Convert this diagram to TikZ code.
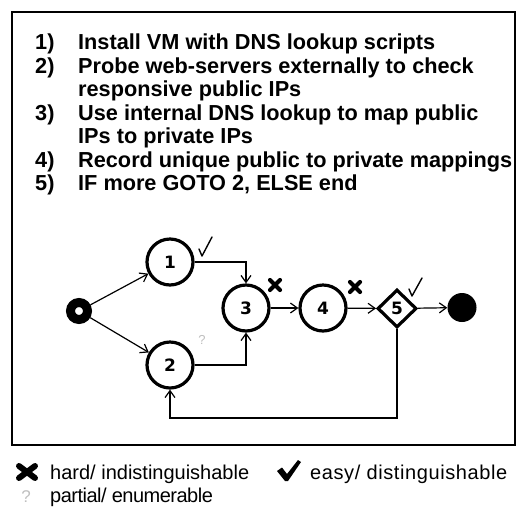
\documentclass[tikz,border=0pt]{standalone}
\usepackage{fontspec}
\setmainfont{Liberation Sans}
\newfontfamily\numfont{DejaVu Sans}
\newfontfamily\widefont[LetterSpace=3]{Liberation Sans}
\newfontfamily\tightfont[LetterSpace=-2.5]{Liberation Sans}
\usetikzlibrary{arrows.meta,shapes.geometric}
\begin{document}
\begin{tikzpicture}[x=1pt,y=-1pt,
  itemnum/.style={anchor=base west,inner sep=0pt,font=\fontsize{21.7}{21.7}\selectfont\bfseries},
  itemtext/.style={anchor=base west,inner sep=0pt,font=\fontsize{21.7}{21.7}\selectfont\bfseries},
  legendtext/.style={anchor=base west,inner sep=0pt,font=\fontsize{20}{20}\selectfont},
  stepnode/.style={circle,draw,line width=3.2pt,minimum size=46pt,inner sep=0pt,
    font=\numfont\fontsize{17}{17}\selectfont\bfseries},
  decide/.style={diamond,draw,line width=3.2pt,minimum width=39pt,minimum height=38pt,
    inner sep=0pt,font=\numfont\fontsize{17}{17}\selectfont\bfseries},
  startnode/.style={circle,draw,line width=9pt,minimum size=17pt,inner sep=0pt},
  endnode/.style={circle,fill,minimum size=29pt,inner sep=0pt},
  arr/.style={line width=1.2pt,-{Straight Barb[length=7pt,width=10pt,line width=1.2pt]}},
  easymark/.style={line width=1.4pt,line cap=round,line join=round},
  hardmark/.style={line width=4.2pt,line cap=round},
  partialmark/.style={text=black!25,inner sep=0pt,font=\fontsize{13}{13}\selectfont}
]
\useasboundingbox (0,0) rectangle (518,517);

% outer frame
\draw[line width=2pt] (12,12) rectangle (515,445);

% numbered steps
\node[itemnum] (k1) at (35,49.5) {1)};
\node[itemtext] (t1) at (78,49.5) {Install VM with DNS lookup scripts};
\node[itemnum] (k2) at (35,73) {2)};
\node[itemtext] (t2) at (78,73) {Probe web-servers externally to check};
\node[itemtext] (t2b) at (78,96.5) {responsive public IPs};
\node[itemnum] (k3) at (35,120) {3)};
\node[itemtext] (t3) at (78,120) {Use internal DNS lookup to map public};
\node[itemtext] (t3b) at (78,143.5) {IPs to private IPs};
\node[itemnum] (k4) at (35,167) {4)};
\node[itemtext] (t4) at (78,167) {Record unique public to private mappings};
\node[itemnum] (k5) at (35,190.5) {5)};
\node[itemtext] (t5) at (78,190.5) {IF more GOTO 2, ELSE end};

% flow graph
\node[startnode] (s) at (79,311) {};
\node[stepnode] (n1) at (170,262) {1};
\node[stepnode] (n2) at (170,365) {2};
\node[stepnode] (n3) at (246,308) {3};
\node[stepnode] (n4) at (323,308) {4};
\node[decide] (n5) at (397,308.5) {5};
\node[endnode] (e) at (462,307.5) {};
\coordinate (back) at (300,418);

\draw[arr] (s) -- (n1);
\draw[arr] (s) -- (n2);
\draw[arr] (n1.east) -| (n3.north);
\draw[arr] (n2.east) -| (n3.south);
\draw[arr] (n3) -- (n4);
\draw[arr] (n4) -- (n5);
\draw[arr] (n5) -- (e);
\draw[arr] (n5.south) |- (back) -| (n2.south);

% difficulty marks on the steps
\draw[easymark] (199,249) -- (202,256) -- (212,237);
\draw[easymark] (409,289) -- (412,296) -- (422,278);
\draw[hardmark] (270,280) -- (280,290) (270,290) -- (280,280);
\draw[hardmark] (350,282) -- (360,292) (350,292) -- (360,282);
\node[partialmark] (q) at (202,340) {?};

% legend
\draw[line width=6pt,line cap=round] (19,466) -- (35,478) (19,478) -- (35,466);
\node[legendtext] (l1) at (50,479) {hard/ indistinguishable};
\fill (277,471) -- (282,467.5) -- (287,474) -- (298,460) -- (301,462) -- (288,481) -- (285,481) -- cycle;
\node[legendtext,font=\widefont\fontsize{20}{20}\selectfont] (l2) at (310,479) {easy/ distinguishable};
\node[partialmark,font=\fontsize{17}{17}\selectfont] (q2) at (26,497) {?};
\node[legendtext,font=\tightfont\fontsize{20}{20}\selectfont] (l3) at (50,502) {partial/ enumerable};
\end{tikzpicture}
\end{document}
